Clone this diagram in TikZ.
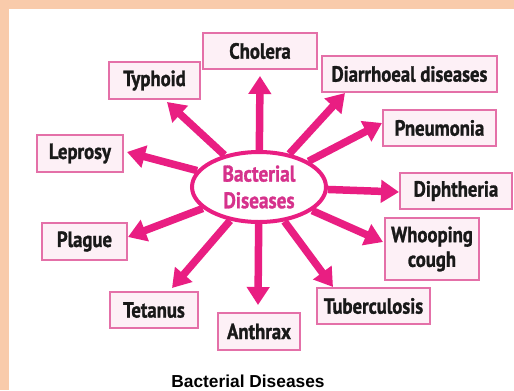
\documentclass[tikz,border=0pt]{standalone}
\usepackage{fontspec}
\setmainfont{Liberation Sans}
\newfontfamily\cond{PT Sans}[FakeStretch=0.85,FakeBold=1.2]
\usetikzlibrary{arrows.meta,shapes.geometric}
\definecolor{peach}{RGB}{249,203,171}
\definecolor{arrpink}{RGB}{233,30,130}
\definecolor{boxline}{RGB}{228,112,168}
\definecolor{boxfill}{RGB}{253,240,246}
\definecolor{elltext}{RGB}{214,50,140}
\definecolor{boxtext}{RGB}{25,25,25}
\newcommand\pxu{0.75pt}
\tikzset{
  dbox/.style={draw=boxline, fill=boxfill, line width=2*\pxu, inner sep=0pt,
    font=\cond\bfseries\fontsize{16.5}{18.5}\selectfont, text=boxtext, align=center},
  arr/.style={draw=arrpink, line width=7.5*\pxu, -{Triangle[width=22*\pxu,length=18*\pxu]}},
}
\begin{document}
\begin{tikzpicture}[x=0.75pt,y=-0.75pt]
\fill[peach] (0,0) rectangle (514,390);
\fill[white] (9,9) rectangle (514,390);
\useasboundingbox (0,0) rectangle (514,390);

\node[dbox, minimum width=114*\pxu, minimum height=36*\pxu] (cho) at (260,51) {Cholera};
\node[dbox, minimum width=91*\pxu, minimum height=37*\pxu] (typ) at (154.5,80.5) {Typhoid};
\node[dbox, minimum width=175*\pxu, minimum height=36*\pxu] (dia) at (409.5,74) {Diarrhoeal diseases};
\node[dbox, minimum width=113*\pxu, minimum height=36*\pxu] (pne) at (439.5,128) {Pneumonia};
\node[dbox, minimum width=86*\pxu, minimum height=37*\pxu] (lep) at (80,153.5) {Leprosy};
\node[dbox, minimum width=112*\pxu, minimum height=36*\pxu] (dip) at (456,191) {Diphtheria};
\node[dbox, minimum width=85*\pxu, minimum height=37*\pxu] (pla) at (84.5,241.5) {Plague};
\node[dbox, minimum width=94*\pxu, minimum height=62*\pxu] (who) at (432,249) {Whooping\\cough};
\node[dbox, minimum width=88*\pxu, minimum height=36*\pxu] (tet) at (154,310) {Tetanus};
\node[dbox, minimum width=82*\pxu, minimum height=37*\pxu] (ant) at (259,331.5) {Anthrax};
\node[dbox, minimum width=113*\pxu, minimum height=36*\pxu] (tub) at (373.5,306) {Tuberculosis};

\node[ellipse, draw=arrpink, fill=white, line width=4*\pxu, inner sep=0pt,
  minimum width=134*\pxu, minimum height=70*\pxu, text=elltext, align=center,
  font=\cond\bfseries\fontsize{17}{20}\selectfont] (c) at (259,187) {Bacterial\\Diseases};

\coordinate (tcho) at (260,76);
\coordinate (ttyp) at (167,102);
\coordinate (tdia) at (345,93);
\coordinate (tpne) at (382,123);
\coordinate (tlep) at (127,152);
\coordinate (tdip) at (399,192);
\coordinate (tpla) at (128,237);
\coordinate (twho) at (383,242);
\coordinate (ttet) at (172,288);
\coordinate (tant) at (258,305);
\coordinate (ttub) at (333,287);

\foreach \t in {tcho,ttyp,tdia,tpne,tlep,tdip,tpla,twho,ttet,tant,ttub}
  \draw[arr] (c) -- (\t);

\node[font=\bfseries\fontsize{13}{15}\selectfont, inner sep=0pt] (cap) at (248,381) {Bacterial Diseases};
\end{tikzpicture}
\end{document}
